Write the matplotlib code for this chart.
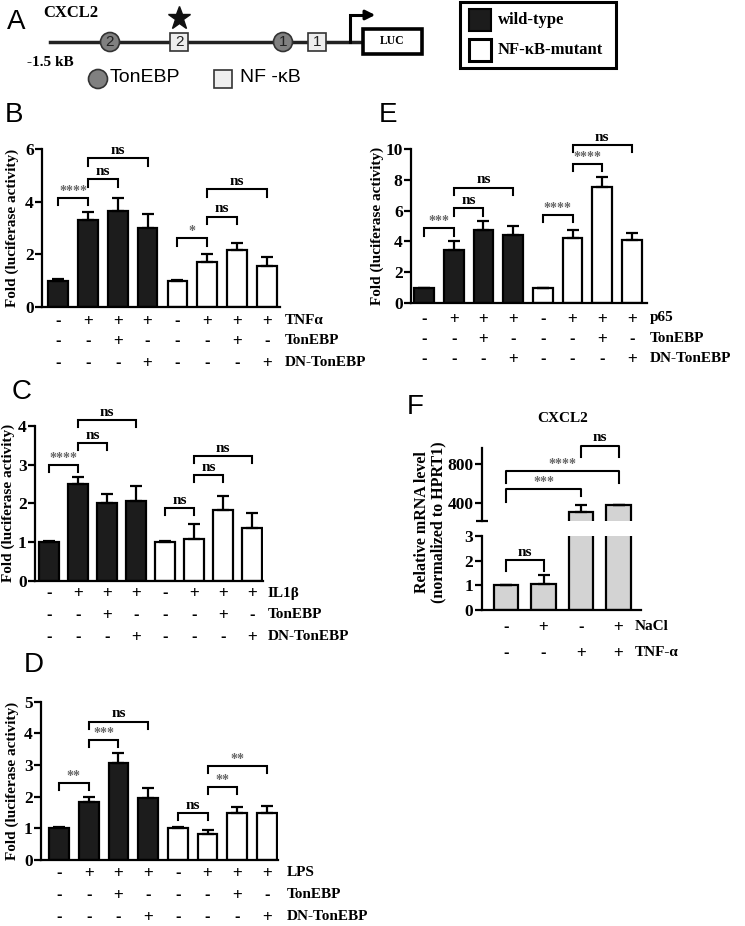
import numpy as np
import matplotlib
matplotlib.use('Agg')
import matplotlib.pyplot as plt
from matplotlib.patches import Circle, Rectangle

plt.rcParams['font.family'] = ['Liberation Serif', 'DejaVu Serif']
plt.rcParams['font.weight'] = 'bold'

W, H = 745, 926

# ---- data ----
groups = ['wild-type', 'NF-κB-mutant']
sign_rows = [['-', '+', '+', '+', '-', '+', '+', '+'],
             ['-', '-', '+', '-', '-', '-', '+', '-'],
             ['-', '-', '-', '+', '-', '-', '-', '+']]

B_vals = [1.0, 3.31, 3.64, 2.99, 1.0, 1.69, 2.15, 1.54]
B_err = [0.05, 0.28, 0.51, 0.55, 0.04, 0.31, 0.27, 0.34]
B_sig = [(0, 1, 4.15, '****'), (1, 2, 4.85, 'ns'), (1, 3, 5.64, 'ns'),
         (4, 5, 2.61, '*'), (5, 6, 3.43, 'ns'), (5, 7, 4.47, 'ns')]
B_rows = ['TNFα', 'TonEBP', 'DN-TonEBP']

C_vals = [1.0, 2.49, 2.01, 2.05, 1.0, 1.09, 1.84, 1.36]
C_err = [0.03, 0.20, 0.23, 0.40, 0.03, 0.38, 0.34, 0.38]
C_sig = [(0, 1, 2.99, '****'), (1, 2, 3.55, 'ns'), (1, 3, 4.15, 'ns'),
         (4, 5, 1.88, 'ns'), (5, 6, 2.73, 'ns'), (5, 7, 3.22, 'ns')]
C_rows = ['IL1β', 'TonEBP', 'DN-TonEBP']

D_vals = [1.0, 1.84, 3.07, 1.95, 1.0, 0.82, 1.47, 1.50]
D_err = [0.04, 0.16, 0.32, 0.31, 0.04, 0.13, 0.19, 0.22]
D_sig = [(0, 1, 2.44, '**'), (1, 2, 3.79, '***'), (1, 3, 4.37, 'ns'),
         (4, 5, 1.47, 'ns'), (5, 6, 2.29, '**'), (5, 7, 2.98, '**')]
D_rows = ['LPS', 'TonEBP', 'DN-TonEBP']

E_vals = [0.95, 3.41, 4.75, 4.43, 0.95, 4.25, 7.56, 4.06]
E_err = [0.05, 0.59, 0.58, 0.54, 0.05, 0.50, 0.64, 0.48]
E_sig = [(0, 1, 4.86, '***'), (1, 2, 6.16, 'ns'), (1, 3, 7.49, 'ns'),
         (4, 5, 5.72, '****'), (5, 6, 9.03, '****'), (5, 7, 10.26, 'ns')]
E_rows = ['p65', 'TonEBP', 'DN-TonEBP']

F_vals = [1.0, 1.05, 300, 375]
F_err = [0.0, 0.36, 75, 5]
F_rows = ['NaCl', 'TNF-α']
F_signs = [['-', '+', '-', '+'], ['-', '-', '+', '+']]

BLACK = '#1c1c1c'
GREY = '#d3d3d3'
LW = 1.6
TICK_FS = 12.5

fig = plt.figure(figsize=(W / 100, H / 100), dpi=100)


def add_ax(l, t, r, b):
    return fig.add_axes([l / W, 1 - b / H, (r - l) / W, (b - t) / H])


def style(ax, yticks, bottom=True):
    for s in ['top', 'right']:
        ax.spines[s].set_visible(False)
    ax.spines['left'].set_linewidth(LW)
    ax.spines['bottom'].set_linewidth(LW)
    ax.spines['bottom'].set_visible(bottom)
    ax.set_xticks([])
    ax.set_yticks(yticks)
    ax.tick_params(axis='y', length=5, width=LW, labelsize=TICK_FS, pad=1)
    for t in ax.get_yticklabels():
        t.set_fontweight('bold')
    ax.patch.set_alpha(0)


def brackets(ax, sig, leg, star_size=10):
    for i, j, y, txt in sig:
        ax.plot([i, i, j, j], [y - leg, y, y, y - leg], color='k', lw=1.5,
                clip_on=False, solid_joinstyle='miter')
        if txt == 'ns':
            ax.annotate(txt, ((i + j) / 2, y), xytext=(0, 1), textcoords='offset points',
                        ha='center', va='bottom', fontsize=11, fontweight='bold',
                        annotation_clip=False)
        else:
            ax.annotate(txt, ((i + j) / 2, y), xytext=(0, 0), textcoords='offset points',
                        ha='center', va='bottom', fontsize=star_size, fontweight='bold',
                        color='#666666', annotation_clip=False)


def sign_table(ax, signs, names, rows_px, name_x):
    for k, row in enumerate(signs):
        y = H - rows_px[k]
        for i, s in enumerate(row):
            ax.annotate(s, (i, y), xycoords=('data', 'figure pixels'), ha='center',
                        va='center', fontsize=12, family='Liberation Sans',
                        fontweight='bold' if s == '-' else 'normal',
                        annotation_clip=False)
        fig.text(name_x / W, y / H, names[k], ha='left', va='center',
                 fontsize=11, fontweight='bold')


def bar_panel(box, vals, errs, ymax, yticks, xlim, sig, leg, names, rows_px, name_x,
              ylab_xy, letter, letter_xy):
    ax = add_ax(*box)
    x = np.arange(len(vals))
    colors = [BLACK] * 4 + ['white'] * 4
    ax.bar(x, vals, width=0.66, color=colors, edgecolor='black', linewidth=LW, zorder=2)
    ax.errorbar(x, vals, yerr=[np.zeros(len(vals)), errs], fmt='none', ecolor='black',
                elinewidth=LW, capsize=4.5, capthick=LW, zorder=3)
    ax.set_xlim(*xlim)
    ax.set_ylim(0, ymax)
    style(ax, yticks)
    brackets(ax, sig, leg)
    sign_table(ax, sign_rows, names, rows_px, name_x)
    fig.text(ylab_xy[0] / W, 1 - ylab_xy[1] / H, 'Fold (luciferase activity)',
             rotation=90, ha='center', va='center', fontsize=11, fontweight='bold')
    fig.text(letter_xy[0] / W, 1 - letter_xy[1] / H, letter, ha='center', va='center',
             fontsize=20, family='Liberation Sans', fontweight='normal')
    return ax


bar_panel((42, 149, 280, 307), B_vals, B_err, 6, [0, 2, 4, 6], (-0.536, 7.435),
          B_sig, 0.28, B_rows, [321, 341, 362], 285, (12, 228), 'B', (14, 115))
bar_panel((35, 426, 263, 580.7), C_vals, C_err, 4, [0, 1, 2, 3, 4], (-0.483, 7.38),
          C_sig, 0.18, C_rows, [593, 614, 636], 268, (8, 503), 'C', (22, 392))
bar_panel((41, 701.7, 278, 860), D_vals, D_err, 5, [0, 1, 2, 3, 4, 5], (-0.606, 7.37),
          D_sig, 0.22, D_rows, [872, 895, 917], 287, (12, 781), 'D', (34, 665))
bar_panel((411, 149, 647, 303), E_vals, E_err, 10, [0, 2, 4, 6, 8, 10], (-0.438, 7.505),
          E_sig, 0.48, E_rows, [318, 338, 358], 650, (377, 226), 'E', (388, 115))

# ---- panel F (broken axis) ----
xF = np.arange(len(F_vals))
axl = add_ax(481.7, 536, 641, 610)
axu = add_ax(481.7, 448, 641, 521)
for a in (axl, axu):
    a.bar(xF, F_vals, width=0.66, color=GREY, edgecolor='black', linewidth=LW, zorder=2)
    a.errorbar(xF, F_vals, yerr=[np.zeros(4), F_err], fmt='none', ecolor='black',
               elinewidth=LW, capsize=4.5, capthick=LW, zorder=3)
    a.set_xlim(-0.648, 3.6)
axl.set_ylim(0, 3)
axu.set_ylim(210, 970)
style(axl, [0, 1, 2, 3])
style(axu, [400, 800], bottom=False)
axu.set_yticks([210], minor=True)
axu.tick_params(axis='y', which='minor', direction='inout', length=9, width=LW)

brackets(axl, [(0, 1, 2.03, 'ns')], 0.44)
for i, j, y, yl, yr, txt in [(0, 2, 539, 410, 470, '***'), (0, 3, 730, 602, 602, '****'),
                             (2, 3, 993, 878, 878, 'ns')]:
    axu.plot([i, i, j, j], [yl, y, y, yr], color='k', lw=1.5, clip_on=False)
    axu.annotate(txt, ((i + j) / 2, y), xytext=(0, 1 if txt == 'ns' else 0),
                 textcoords='offset points', ha='center', va='bottom',
                 fontsize=11 if txt == 'ns' else 10, fontweight='bold',
                 color='k' if txt == 'ns' else '#666666', annotation_clip=False)
for k, row in enumerate(F_signs):
    y = H - [627, 652][k]
    for i, s in enumerate(row):
        axl.annotate(s, (i, y), xycoords=('data', 'figure pixels'), ha='center', va='center',
                     fontsize=12, family='Liberation Sans',
                     fontweight='bold' if s == '-' else 'normal', annotation_clip=False)
    fig.text(635 / W, y / H, F_rows[k], ha='left', va='center', fontsize=11, fontweight='bold')
fig.text(563 / W, 1 - 418 / H, 'CXCL2', ha='center', va='center', fontsize=11, fontweight='bold')
fig.text(430 / W, 1 - 522 / H, 'Relative mRNA level\n(normalized to HPRT1)', rotation=90,
         ha='center', va='center', fontsize=11.5, fontweight='bold', linespacing=1.05)
fig.text(415 / W, 1 - 407 / H, 'F', ha='center', va='center', fontsize=20,
         family='Liberation Sans', fontweight='normal')

# ---- panel A: promoter schematic ----
ov = fig.add_axes([0, 0, 1, 1])
ov.set_xlim(0, W)
ov.set_ylim(H, 0)
ov.axis('off')
ov.text(16, 22, 'A', ha='center', va='center', fontsize=20, family='Liberation Sans',
        fontweight='normal')
ov.text(43, 13, 'CXCL2', ha='left', va='center', fontsize=12, fontweight='bold')
ov.plot([50, 363], [42, 42], color='#222222', lw=2.5, zorder=1)
for cx, lab in [(110, '2'), (283, '1')]:
    ov.add_patch(Circle((cx, 42), 9.5, fc='#808080', ec='#333333', lw=1.2, zorder=2))
    ov.text(cx, 42, lab, ha='center', va='center', fontsize=11, family='Liberation Sans',
            fontweight='normal', color='#222222', zorder=3)
for cx, lab in [(179, '2'), (317, '1')]:
    ov.add_patch(Rectangle((cx - 9, 33), 18, 18, fc='#eeeeee', ec='#333333', lw=1.2, zorder=2))
    ov.text(cx, 42, lab, ha='center', va='center', fontsize=11, family='Liberation Sans',
            fontweight='normal', color='#222222', zorder=3)
ov.plot([179], [18], marker='*', markersize=17, color='#111111')
ov.plot([350, 350, 366], [42, 15, 15], color='k', lw=2.2, solid_joinstyle='miter')
ov.annotate('', xy=(378, 15), xytext=(362, 15),
            arrowprops=dict(arrowstyle='-|>', color='k', lw=2.2, mutation_scale=14))
ov.add_patch(Rectangle((363, 29), 59, 25, fc='white', ec='black', lw=2.6, zorder=2))
ov.text(392.5, 41.5, 'LUC', ha='center', va='center', fontsize=8.5, fontweight='bold', zorder=3)
ov.text(27, 62, '-1.5 kB', ha='left', va='center', fontsize=11, fontweight='bold')
ov.add_patch(Circle((98, 79), 9.5, fc='#808080', ec='#333333', lw=1.2))
ov.text(110, 78, 'TonEBP', ha='left', va='center', fontsize=14, family='Liberation Sans',
        fontweight='normal')
ov.add_patch(Rectangle((214, 70), 18, 18, fc='#eeeeee', ec='#333333', lw=1.2))
ov.text(240, 78, 'NF -κB', ha='left', va='center', fontsize=14, family='Liberation Sans',
        fontweight='normal')

# legend box
ov.add_patch(Rectangle((460, 2), 156, 66, fc='white', ec='black', lw=2.2))
ov.add_patch(Rectangle((469, 9), 22, 22, fc=BLACK, ec='black', lw=1.5))
ov.add_patch(Rectangle((469, 39), 22, 22, fc='white', ec='black', lw=2.2))
ov.text(498, 20, groups[0], ha='left', va='center', fontsize=12, fontweight='bold')
ov.text(498, 50, groups[1], ha='left', va='center', fontsize=12, fontweight='bold')

fig.savefig('out.png', dpi=100)
